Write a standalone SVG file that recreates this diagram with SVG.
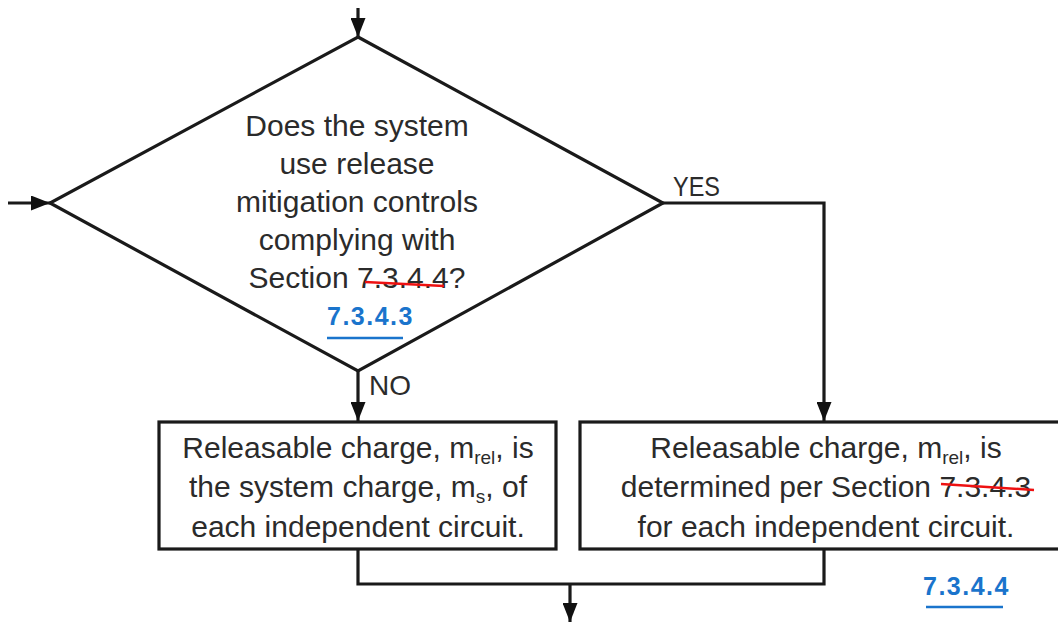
<svg xmlns="http://www.w3.org/2000/svg" width="1058" height="622" viewBox="0 0 1058 622">
<style>
.ln{fill:none;stroke:#1a1a1a;stroke-width:3.2;stroke-linejoin:miter}
.sh{fill:#fff;stroke:#1a1a1a;stroke-width:3.2}
.t{font-family:"Liberation Sans",Arial,sans-serif;font-size:30px;fill:#2b2b2b;text-anchor:middle}
.lbl{font-family:"Liberation Sans",Arial,sans-serif;font-size:28px;fill:#2b2b2b}
.sub{font-size:19px}
.blue{font-family:"Liberation Sans",Arial,sans-serif;font-weight:bold;font-size:25px;fill:#1a74cc;letter-spacing:1.5px}
.ul{stroke:#1a74cc;stroke-width:2.5}
.strike{stroke:#ee1111;stroke-width:2.5;fill:none}
</style>
<defs>
<marker id="ah" viewBox="0 0 19 15" refX="19" refY="7.5" markerWidth="19" markerHeight="15" markerUnits="userSpaceOnUse" orient="auto">
<path d="M0,0 L19,7.5 L0,15 Z" fill="#111"/>
</marker>
</defs>
<g id="connectors">
<line class="ln" x1="358" y1="8" x2="358" y2="37" marker-end="url(#ah)"/>
<line class="ln" x1="8" y1="203" x2="50" y2="203" marker-end="url(#ah)"/>
<line class="ln" x1="358" y1="371" x2="358" y2="421" marker-end="url(#ah)"/>
<polyline class="ln" points="663,203 824,203 824,421" marker-end="url(#ah)"/>
<polyline class="ln" points="358,549 358,584 824,584 824,549"/>
<line class="ln" x1="570" y1="584" x2="570" y2="622" marker-end="url(#ah)"/>
</g>
<g id="decision">
<polygon class="sh" points="358,37 663,203 358,371 50,203"/>
<text class="t" x="357" y="136">Does the system</text>
<text class="t" x="357" y="174">use release</text>
<text class="t" x="357" y="212">mitigation controls</text>
<text class="t" x="357" y="250">complying with</text>
<text class="t" x="357" y="288">Section 7.3.4.4?</text>
<line class="strike" x1="365" y1="282" x2="444" y2="286"/>
<text class="blue" x="327" y="325">7.3.4.3</text>
<line class="ul" x1="327" y1="338" x2="403" y2="338"/>
</g>
<g id="label-yes">
<text class="lbl" x="673" y="196" textLength="47" lengthAdjust="spacingAndGlyphs">YES</text>
</g>
<g id="label-no">
<text class="lbl" x="369" y="395">NO</text>
</g>
<g id="box-no">
<rect class="sh" x="159" y="422" width="397" height="127"/>
<text class="t" x="358" y="458">Releasable charge, m<tspan class="sub" dy="6">rel</tspan><tspan dy="-6">, is</tspan></text>
<text class="t" x="358" y="497">the system charge, m<tspan class="sub" dy="6">s</tspan><tspan dy="-6">, of</tspan></text>
<text class="t" x="358" y="537">each independent circuit.</text>
</g>
<g id="box-yes">
<rect class="sh" x="580" y="422" width="492" height="127"/>
<text class="t" x="826" y="458">Releasable charge, m<tspan class="sub" dy="6">rel</tspan><tspan dy="-6">, is</tspan></text>
<text class="t" x="826" y="497">determined per Section 7.3.4.3</text>
<line class="strike" x1="941" y1="484" x2="1034" y2="490"/>
<text class="t" x="826" y="537">for each independent circuit.</text>
</g>
<g id="ref-7344">
<text class="blue" x="923" y="595">7.3.4.4</text>
<line class="ul" x1="926" y1="607" x2="1003" y2="607"/>
</g>
</svg>
